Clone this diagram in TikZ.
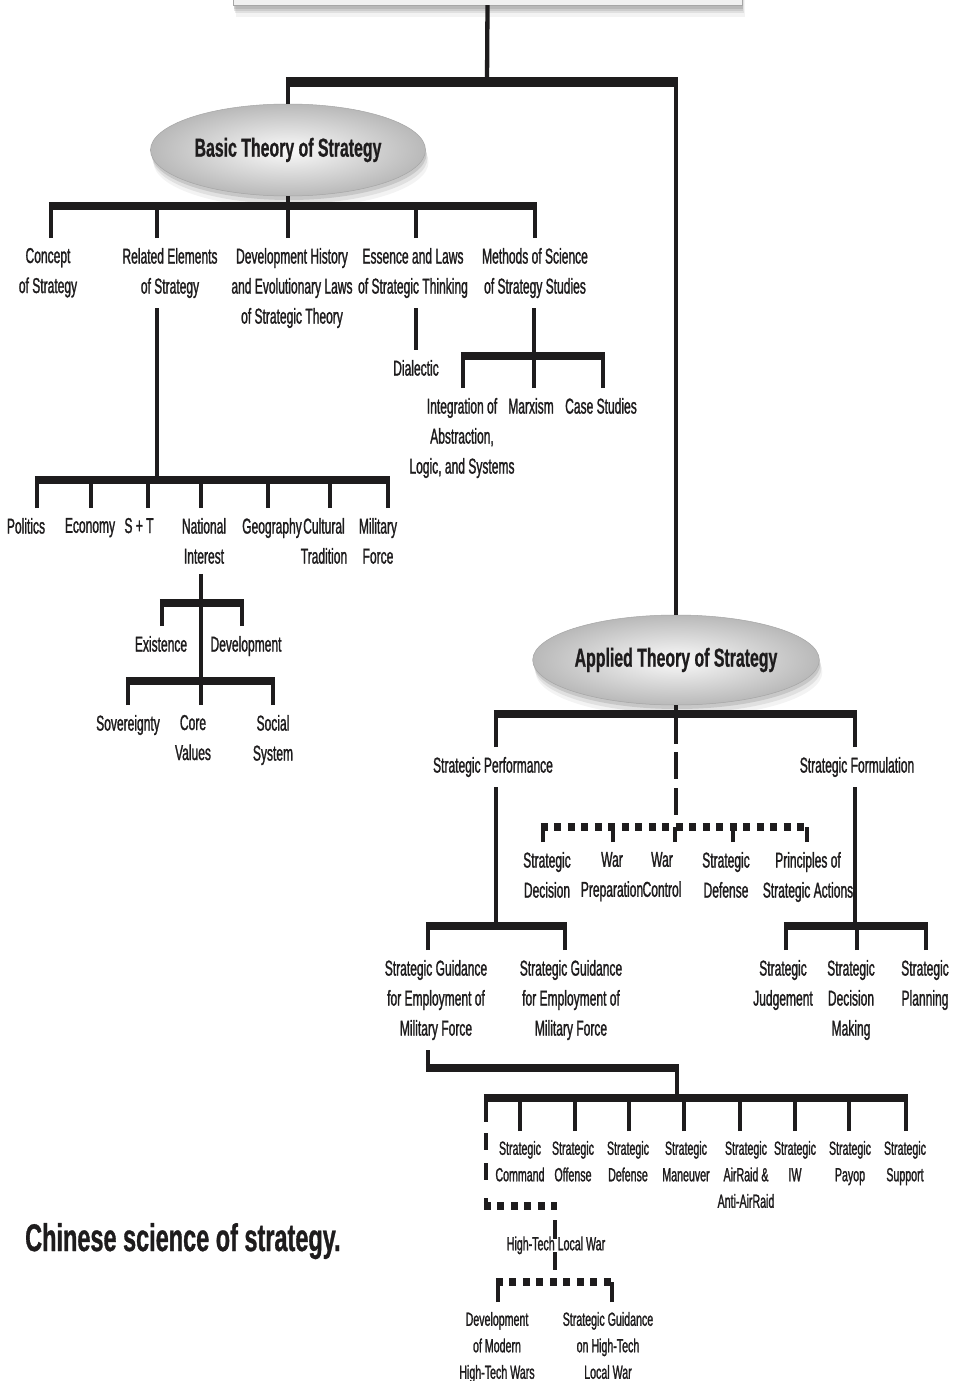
\documentclass[tikz,border=0pt]{standalone}
\usepackage{fontspec}
\setmainfont{Liberation Sans}[FakeStretch=0.56,FakeBold=1.2]
\newfontfamily\headfont{Liberation Sans}[FakeStretch=0.61,FakeBold=0.8]
\usetikzlibrary{shapes.geometric,shadows}
\definecolor{ink}{HTML}{1E1C1D}

\providecommand{\Drop}[3][0]{
\draw[stem] ([xshift=#1pt]#2.north) -- ([xshift=#1pt]#2.north |- #3);
}

\begin{document}
\begin{tikzpicture}[x=1pt,y=-1pt,
  lbl/.style={align=center,inner sep=0pt,outer ysep=10pt,anchor=north,text=ink,font=\fontsize{21.5}{30}\selectfont},
  sml/.style={lbl,font=\fontsize{19}{26.5}\selectfont},
  bar/.style={draw=ink,line width=8pt,shorten <=-2.15pt,shorten >=-2.15pt},
  stem/.style={draw=ink,line width=4.3pt},
  dbar/.style={bar,line width=7.5pt,dash pattern=on 7pt off 6.5pt},
  soft/.style={drop shadow={shadow xshift=1pt,shadow yshift=-4pt,opacity=.25},
    drop shadow={shadow xshift=2pt,shadow yshift=-8pt,opacity=.16},
    drop shadow={shadow xshift=3pt,shadow yshift=-12pt,opacity=.09}},
  oval/.style={ellipse,draw=gray!70,line width=.5pt,inner sep=0pt,shading=radial,inner color=gray!4,outer color=gray!55,soft,
    text=ink,font=\headfont\bfseries\fontsize{26}{30}\selectfont}]
\fill[white] (0,0) rectangle (959,1381);
\useasboundingbox (0,0) rectangle (959,1381);

\node[draw=gray!70,fill=gray!12,minimum width=509pt,minimum height=40pt,soft,
  drop shadow={shadow xshift=1pt,shadow yshift=-6pt,opacity=.2}] (top) at (487.5,-15) {};
\node[oval,minimum width=275pt,minimum height=92pt] (basic) at (288,150) {Basic Theory of Strategy};
\node[oval,minimum width=278pt,minimum height=90pt] (applied) at (676,660) {Applied Theory of Strategy};

\node[lbl] (con) at (48,238) {Concept\\of Strategy};
\node[lbl] (rel) at (170,238) {Related Elements\\of Strategy};
\node[lbl] (dev) at (292,238) {Development History\\and Evolutionary Laws\\of Strategic Theory};
\node[lbl] (ess) at (413,238) {Essence and Laws\\of Strategic Thinking};
\node[lbl] (met) at (535,238) {Methods of Science\\of Strategy Studies};
\node[lbl] (dia) at (416,350) {Dialectic};
\node[lbl] (intg) at (462,388) {Integration of\\Abstraction,\\Logic, and Systems};
\node[lbl] (marx) at (531,388) {Marxism};
\node[lbl] (cases) at (601,388) {Case Studies};
\node[lbl] (pol) at (26,508) {Politics};
\node[lbl] (eco) at (90,508) {Economy};
\node[lbl] (st) at (139,508) {S + T};
\node[lbl] (nat) at (204,508) {National\\Interest};
\node[lbl] (geo) at (272,508) {Geography};
\node[lbl] (cul) at (324,508) {Cultural\\Tradition};
\node[lbl] (mil) at (378,508) {Military\\Force};
\node[lbl] (exi) at (161,626) {Existence};
\node[lbl] (dvl) at (246,626) {Development};
\node[lbl] (sov) at (128,705) {Sovereignty};
\node[lbl] (core) at (193,705) {Core\\Values};
\node[lbl] (soc) at (273,705) {Social\\System};

\node[lbl] (perf) at (493,747) {Strategic Performance};
\node[lbl] (form) at (857,747) {Strategic Formulation};
\node[lbl] (sdec) at (547,842) {Strategic\\Decision};
\node[lbl] (wprep) at (612,842) {War\\Preparation};
\node[lbl] (wctl) at (662,842) {War\\Control};
\node[lbl] (sdef) at (726,842) {Strategic\\Defense};
\node[lbl] (prin) at (808,842) {Principles of\\Strategic Actions};
\node[lbl] (sg1) at (436,950) {Strategic Guidance\\for Employment of\\Military Force};
\node[lbl] (sg2) at (571,950) {Strategic Guidance\\for Employment of\\Military Force};
\node[lbl] (judg) at (783,950) {Strategic\\Judgement};
\node[lbl] (dmak) at (851,950) {Strategic\\Decision\\Making};
\node[lbl] (plan) at (925,950) {Strategic\\Planning};
\node[sml] (cmd) at (520,1131) {Strategic\\Command};
\node[sml] (off) at (573,1131) {Strategic\\Offense};
\node[sml] (dfn) at (628,1131) {Strategic\\Defense};
\node[sml] (man) at (686,1131) {Strategic\\Maneuver};
\node[sml] (air) at (746,1131) {Strategic\\AirRaid \&\\Anti-AirRaid};
\node[sml] (iw) at (795,1131) {Strategic\\IW};
\node[sml] (pay) at (850,1131) {Strategic\\Payop};
\node[sml] (sup) at (905,1131) {Strategic\\Support};
\node[sml,outer ysep=-2pt] (htlw) at (556,1238.5) {High-Tech Local War};
\node[sml] (dmhw) at (497,1302) {Development\\of Modern\\High-Tech Wars};
\node[sml] (sght) at (608,1302) {Strategic Guidance\\on High-Tech\\Local War};
\node[anchor=base west,inner sep=0pt,text=ink,font=\headfont\bfseries\fontsize{38.5}{40}\selectfont] (cap) at (25,1251) {Chinese science of strategy.};

\coordinate (m) at (487,82);
\draw[stem] (top.south) -- (m);
\draw[bar,line width=10pt] (basic.north |- m) -- (applied.north |- m);
\draw[stem] (basic.north |- m) -- (basic.north);
\draw[stem] (applied.north |- m) -- (applied.north);

\coordinate (b) at (288,206);
\draw[stem] (basic.south) -- (b);
\draw[bar] ([xshift=3pt]con.north |- b) -- (met.north |- b);
\Drop[3]{con}{b} \Drop[-13]{rel}{b} \Drop[-4]{dev}{b} \Drop[3]{ess}{b} \Drop{met}{b}

\coordinate (r) at (157,479.5);
\draw[stem] ([xshift=-13pt]rel.south) -- (r);
\draw[bar] ([xshift=11pt]pol.north |- r) -- ([xshift=10pt]mil.north |- r);
\Drop[11]{pol}{r} \Drop[1]{eco}{r} \Drop[9]{st}{r} \Drop[-3]{nat}{r} \Drop[-4]{geo}{r} \Drop[6]{cul}{r} \Drop[10]{mil}{r}

\coordinate (n1) at (201,603);
\coordinate (n2) at (201,681);
\draw[stem] ([xshift=-3pt]nat.south) -- (n2);
\draw[bar] ([xshift=1pt]exi.north |- n1) -- ([xshift=-4pt]dvl.north |- n1);
\Drop[1]{exi}{n1} \Drop[-4]{dvl}{n1}
\draw[bar] (sov.north |- n2) -- (soc.north |- n2);
\Drop{sov}{n2} \Drop[8]{core}{n2} \Drop{soc}{n2}

\draw[stem] ([xshift=3pt]ess.south) -- (dia.north);
\coordinate (k1) at (534,356);
\draw[stem] ([xshift=-1pt]met.south) -- (k1);
\draw[bar] ([xshift=1pt]intg.north |- k1) -- ([xshift=2pt]cases.north |- k1);
\Drop[1]{intg}{k1} \Drop[3]{marx}{k1} \Drop[2]{cases}{k1}

\coordinate (a) at (676,714);
\draw[stem] (applied.south) -- (a);
\draw[bar] ([xshift=3pt]perf.north |- a) -- ([xshift=-2pt]form.north |- a);
\Drop[3]{perf}{a} \Drop[-2]{form}{a}
\coordinate (d) at (676,827);
\draw[stem,dash pattern=on 30pt off 8pt on 27pt off 9pt on 27pt off 12pt] (a) -- (d);
\draw[dbar] ([xshift=-4pt]sdec.north |- d) -- ([xshift=-1pt]prin.north |- d);
\Drop[-4]{sdec}{d} \Drop[1]{wprep}{d} \Drop[13]{wctl}{d} \Drop[7]{sdef}{d} \Drop[-1]{prin}{d}

\coordinate (p) at (496,926);
\draw[stem] ([xshift=3pt]perf.south) -- (p);
\draw[bar] ([xshift=-8pt]sg1.north |- p) -- ([xshift=-6pt]sg2.north |- p);
\Drop[-8]{sg1}{p} \Drop[-6]{sg2}{p}
\coordinate (f) at (855,926);
\draw[stem] ([xshift=-2pt]form.south) -- (f);
\draw[bar] ([xshift=3pt]judg.north |- f) -- ([xshift=1pt]plan.north |- f);
\Drop[3]{judg}{f} \Drop[6]{dmak}{f} \Drop[1]{plan}{f}

\coordinate (e1) at (428,1068);
\coordinate (e2) at (677,1068);
\coordinate (l) at (677,1098);
\draw[stem] ([xshift=-8pt]sg1.south) -- (e1);
\draw[bar] (e1) -- (e2);
\draw[stem] (e2) -- (l);
\coordinate (l0) at (486,1098);
\draw[bar] (l0) -- ([xshift=1pt]sup.north |- l);
\Drop{cmd}{l} \Drop[2]{off}{l} \Drop[1]{dfn}{l} \Drop[-2]{man}{l} \Drop[-6]{air}{l} \Drop{iw}{l} \Drop[-1]{pay}{l} \Drop[1]{sup}{l}

\coordinate (h0) at (486,1206);
\coordinate (h1) at (555,1206);
\coordinate (k) at (555,1282);
\draw[stem,dash pattern=on 24pt off 11pt on 17pt off 13pt on 17pt off 18pt on 20pt] (l0) -- (h0);
\draw[dbar] (h0) -- (h1);
\draw[stem,dash pattern=on 0pt off 14pt on 30pt] (h1) -- ([xshift=-1pt]htlw.north);
\draw[stem,dash pattern=on 18pt off 30pt] ([xshift=-1pt]htlw.south) -- (k);
\draw[dbar] ([xshift=1pt]dmhw.north |- k) -- ([xshift=4pt]sght.north |- k);
\Drop[1]{dmhw}{k} \Drop[4]{sght}{k}
\end{tikzpicture}
\end{document}
